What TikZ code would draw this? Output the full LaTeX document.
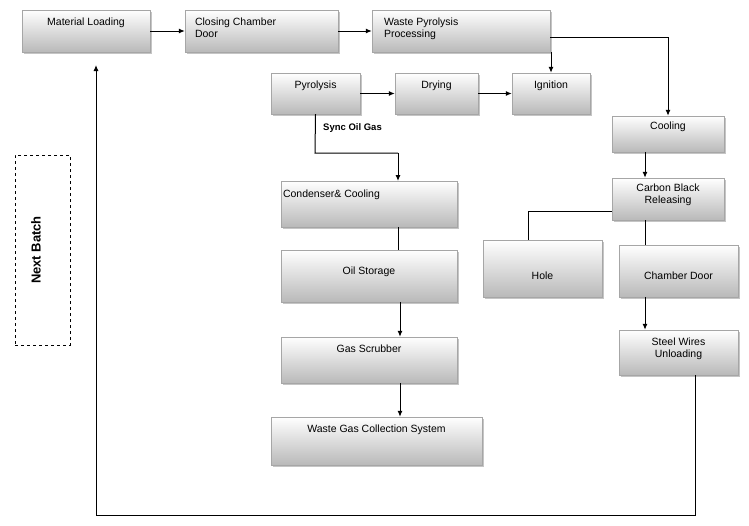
\documentclass[tikz,border=0pt]{standalone}
\usepackage{fontspec}
\setmainfont{Liberation Sans}
\usetikzlibrary{shadows,arrows.meta}
\begin{document}
\begin{tikzpicture}[x=1pt,y=-1pt,font=\fontsize{10.5}{12}\selectfont,
  box/.style={draw=gray!70,top color=white,bottom color=gray!55,inner sep=0pt,
    drop shadow={shadow xshift=2pt,shadow yshift=-2pt,opacity=0.45}},
  lab/.style={anchor=north,yshift=-8pt,align=center,inner sep=0pt},
  labl/.style={anchor=north west,yshift=-8pt,xshift=2pt,align=left,inner sep=0pt},
  arr/.style={-{Latex[length=6pt,width=5pt]},line width=1pt},
  ln/.style={line width=1pt}]
\useasboundingbox[fill=white] (0,0) rectangle (749,525);
\node[box,minimum width=128,minimum height=42,label={[lab]north:Material Loading}] (ml) at (86,31) {};
\node[box,minimum width=153,minimum height=42,label={[labl,xshift=8pt]north west:Closing Chamber\\Door}] (ccd) at (261.5,31) {};
\node[box,minimum width=178,minimum height=42,label={[labl,xshift=10pt]north west:Waste Pyrolysis\\Processing}] (wpp) at (461,31) {};
\node[box,minimum width=89,minimum height=41,label={[lab]north:Pyrolysis}] (pyr) at (315.5,93.5) {};
\node[box,minimum width=83,minimum height=41,label={[lab]north:Drying}] (dry) at (436.5,93.5) {};
\node[box,minimum width=78,minimum height=41,label={[lab]north:Ignition}] (ign) at (551,93.5) {};
\node[box,minimum width=112,minimum height=36,label={[lab,yshift=2pt]north:Cooling}] (cool) at (668,134) {};
\node[box,minimum width=112,minimum height=42,label={[lab,yshift=2pt]north:Carbon Black\\Releasing}] (cbr) at (668,199) {};
\node[box,minimum width=176,minimum height=46,label={[labl,yshift=-1pt]north west:Condenser\& Cooling}] (cond) at (369,204) {};
\node[box,minimum width=176,minimum height=52,label={[lab,yshift=-9pt]north:Oil Storage}] (oil) at (369,276) {};
\node[box,minimum width=119,minimum height=57,label={[lab,yshift=-24pt]north:Hole}] (hole) at (542.5,268.5) {};
\node[box,minimum width=119,minimum height=52,label={[lab,yshift=-19pt]north:Chamber Door}] (cdoor) at (678.5,271) {};
\node[box,minimum width=119,minimum height=45,label={[lab]north:Steel Wires\\Unloading}] (sw) at (678.5,352.5) {};
\node[box,minimum width=176,minimum height=46,label={[lab]north:Gas Scrubber}] (gs) at (369,360) {};
\node[box,minimum width=211,minimum height=48,label={[lab]north:Waste Gas Collection System}] (wgcs) at (376.5,441) {};
\node[draw,dashed,minimum width=55,minimum height=190] (nb) at (42.5,250) {};
\node[rotate=90,font=\bfseries\fontsize{13}{15}\selectfont] (nbt) at (36,250) {Next Batch};
\coordinate (ret) at (96,515);
\draw[arr] (ml) -- (ccd);
\draw[arr] (ccd) -- (wpp);
\draw[arr] (wpp.south -| ign.north) -- (ign.north);
\draw[arr] (wpp.east |- 0,37) -| (cool.north);
\draw[arr] (pyr) -- (dry);
\draw[arr] (dry) -- (ign);
\draw[ln] (pyr.south) -- (315,153) -- (398,153) edge[arr] (398,181);
\node[anchor=west,font=\bfseries\fontsize{9.5}{11}\selectfont,inner sep=0pt] (sog) at (323,128) {Sync Oil Gas};
\draw[ln] (cond.south -| 398,0) -- (oil.north -| 398,0);
\draw[arr] (oil.south -| 400,0) -- (gs.north -| 400,0);
\draw[arr] (gs.south -| 400,0) -- (wgcs.north -| 400,0);
\draw[arr] (cool.south -| 645,0) -- (cbr.north -| 645,0);
\draw[ln] (cbr.west |- 0,211) -| (hole.north -| 528,0);
\draw[ln] (cbr.south -| 645,0) -- (cdoor.north -| 645,0);
\draw[arr] (cdoor.south -| 645,0) -- (sw.north -| 645,0);
\draw[ln] (sw.south -| 695,0) -- (695,515) -- (ret);
\draw[arr] (ret) -- (96,65);
\end{tikzpicture}
\end{document}
